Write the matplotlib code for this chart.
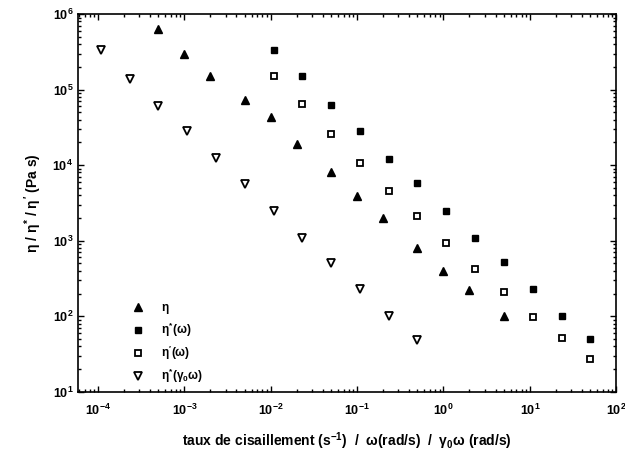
import matplotlib
matplotlib.use("Agg")
import matplotlib.pyplot as plt
from matplotlib.ticker import NullFormatter

plt.rcParams["font.family"] = ["Liberation Sans", "DejaVu Sans"]
plt.rcParams["font.weight"] = "bold"
plt.rcParams["mathtext.fontset"] = "custom"
plt.rcParams["mathtext.rm"] = "Liberation Sans:bold"
plt.rcParams["mathtext.it"] = "Liberation Sans:bold"
plt.rcParams["mathtext.bf"] = "Liberation Sans:bold"

# steady shear viscosity eta vs shear rate
shear_rate = [5e-4, 1e-3, 2e-3, 5e-3, 1e-2, 2e-2, 5e-2, 0.1, 0.2, 0.5, 1, 2, 5]
eta = [6.3e5, 3.0e5, 1.5e5, 7.2e4, 4.4e4, 1.9e4, 8.0e3, 3.9e3, 2.0e3, 8.0e2, 4.0e2, 2.2e2, 1.0e2]

# oscillatory sweep: complex viscosity and dynamic viscosity vs omega
omega = [1.08e-2, 2.33e-2, 5e-2, 0.108, 0.233, 0.5, 1.08, 2.33, 5, 10.8, 23.3, 50]
eta_star = [3.3e5, 1.5e5, 6.3e4, 2.8e4, 1.2e4, 5.8e3, 2.5e3, 1.1e3, 5.3e2, 2.3e2, 1.0e2, 50]
eta_prime = [1.5e5, 6.5e4, 2.6e4, 1.07e4, 4.6e3, 2.1e3, 9.4e2, 4.2e2, 2.1e2, 98, 52, 27.5]

# Cox-Merz shifted complex viscosity vs gamma0 * omega
gamma_omega = [1.08e-4, 2.33e-4, 5e-4, 1.08e-3, 2.33e-3, 5e-3, 1.08e-2, 2.33e-2, 5e-2, 0.108, 0.233, 0.5]
eta_star_shift = [3.3e5, 1.4e5, 6.1e4, 2.8e4, 1.25e4, 5.6e3, 2.5e3, 1.1e3, 5.1e2, 2.3e2, 1.0e2, 49]

x_decades = [1e-4, 1e-3, 1e-2, 1e-1, 1e0, 1e1, 1e2]
y_decades = [1e1, 1e2, 1e3, 1e4, 1e5, 1e6]

fig = plt.figure(figsize=(6.25, 4.54), dpi=100)
ax = fig.add_axes([0.125, 0.137, 0.861, 0.832])

ax.plot(shear_rate, eta, "^", color="black", ms=5.5, ls="none", label=r"$\eta$")
ax.plot(omega, eta_star, "s", color="black", ms=5, ls="none", label=r"$\eta^{*}(\omega)$")
ax.plot(omega, eta_prime, "s", mfc="white", mec="black", mew=1.3, ms=5, ls="none",
        label=r"$\eta'(\omega)$")
ax.plot(gamma_omega, eta_star_shift, "v", mfc="white", mec="black", mew=1.3, ms=6, ls="none",
        label=r"$\eta^{*}(\gamma_0\omega)$")

ax.set_xscale("log")
ax.set_yscale("log")
ax.set_xticks(x_decades)
ax.set_yticks(y_decades)
ax.set_xlim(10 ** -4.23, 100)
ax.set_ylim(10, 1e6)
ax.xaxis.set_minor_formatter(NullFormatter())
ax.yaxis.set_minor_formatter(NullFormatter())

ax.tick_params(which="both", direction="in", top=True, right=True, labelsize=9, width=1)
ax.tick_params(which="major", length=4)
ax.tick_params(which="minor", length=2)
ax.tick_params(axis="x", pad=8)
for spine in ax.spines.values():
    spine.set_linewidth(1.2)

ax.set_xlabel(r"taux de cisaillement (s$^{-1}$)  /  $\omega$(rad/s)  /  $\gamma_0\omega$ (rad/s)",
              fontsize=10, fontweight="bold", labelpad=9)
ax.set_ylabel(r"$\eta$ / $\eta^{*}$ / $\eta'$ (Pa s)", fontsize=10, fontweight="bold", labelpad=6)

ax.legend(loc="lower left", bbox_to_anchor=(0.07, -0.01), frameon=False, fontsize=8.5,
          handletextpad=0.9, labelspacing=0.4)

fig.savefig("out.png", dpi=100)
